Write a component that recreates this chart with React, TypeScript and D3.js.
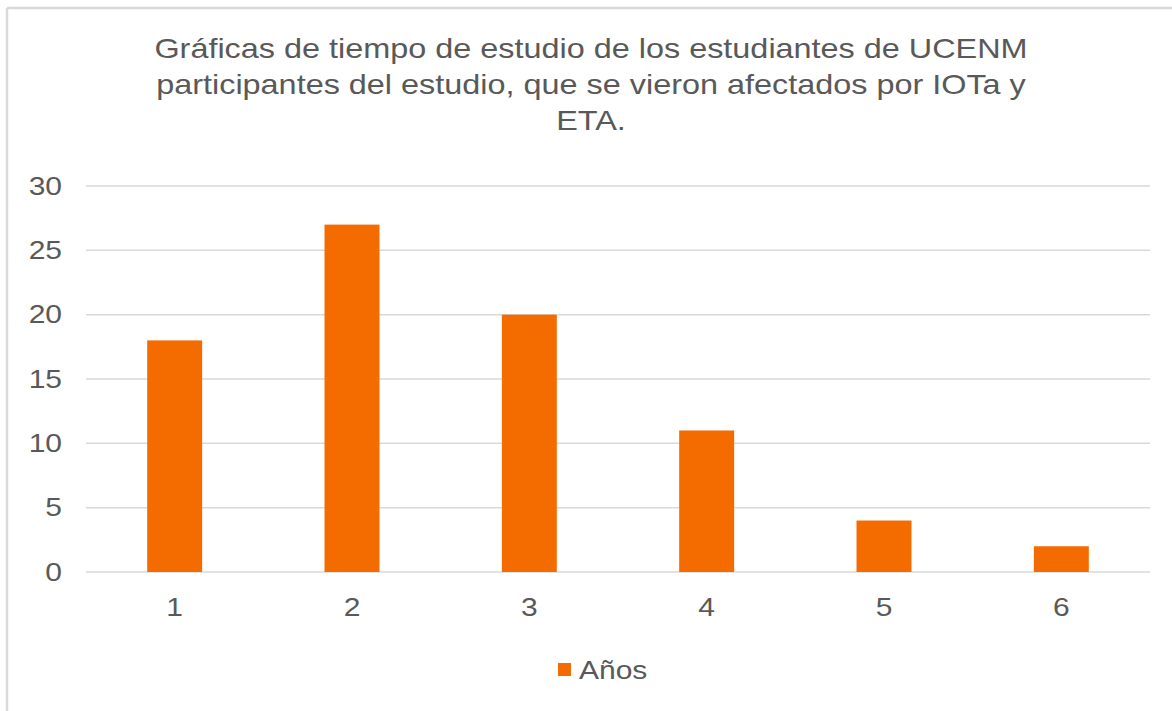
import React from "react";
import * as d3 from "d3";

const categories = ["1", "2", "3", "4", "5", "6"];
const values = [18, 27, 20, 11, 4, 2];
const yTicks = [0, 5, 10, 15, 20, 25, 30];
const titleLines = [
  "Gráficas de tiempo de estudio de los estudiantes de UCENM",
  "participantes del estudio, que se vieron afectados por IOTa y",
  "ETA.",
];
const seriesName = "Años";

const font = "'Liberation Sans', Arial, sans-serif";
const txt = "#595959";
const SX = 1.2;

function T(props: { x: number; y: number; anchor?: string; size: number; children: React.ReactNode; dy?: string }) {
  return (
    <g transform={`translate(${props.x},${props.y}) scale(${SX},1)`}>
      <text x={0} y={0} dy={props.dy} textAnchor={props.anchor || "start"} fontFamily={font} fontSize={props.size} fill={txt}>
        {props.children}
      </text>
    </g>
  );
}

export default function App() {
  const W = 1172, H = 711;
  const left = 86, right = 1150, top = 186, bottom = 572;
  const x = d3.scaleBand<string>().domain(categories).range([left, right]).paddingInner(0.69).paddingOuter(0.345);
  const y = d3.scaleLinear().domain([0, 30]).range([bottom, top]);
  const orange = "#F46B00";
  return (
    <svg width={W} height={H} style={{ position: "absolute", left: 0, top: 0, background: "#fff" }}>
      <rect x={0} y={0} width={W} height={H} fill="#fff" />
      <line x1={7} y1={8} x2={W} y2={8} stroke="#d9d9d9" strokeWidth={2.5} />
      <line x1={7} y1={8} x2={7} y2={H} stroke="#d9d9d9" strokeWidth={2.5} />
      {titleLines.map((t, i) => (
        <T key={i} x={591} y={58 + i * 36} anchor="middle" size={27}>
          {t}
        </T>
      ))}
      {yTicks.map((t) => (
        <g key={t}>
          <line x1={left} x2={right} y1={y(t)} y2={y(t)} stroke="#d9d9d9" strokeWidth={1.5} />
          <T x={62} y={y(t)} dy="0.35em" anchor="end" size={25}>
            {t}
          </T>
        </g>
      ))}
      {categories.map((c, i) => (
        <rect key={c} x={x(c)} y={y(values[i])} width={x.bandwidth()} height={y(0) - y(values[i])} fill={orange} />
      ))}
      {categories.map((c) => (
        <T key={c} x={(x(c) as number) + x.bandwidth() / 2} y={607} dy="0.35em" anchor="middle" size={25}>
          {c}
        </T>
      ))}
      <rect x={558} y={663} width={13} height={13} fill={orange} />
      <T x={579} y={670} dy="0.35em" size={25}>
        {seriesName}
      </T>
    </svg>
  );
}
